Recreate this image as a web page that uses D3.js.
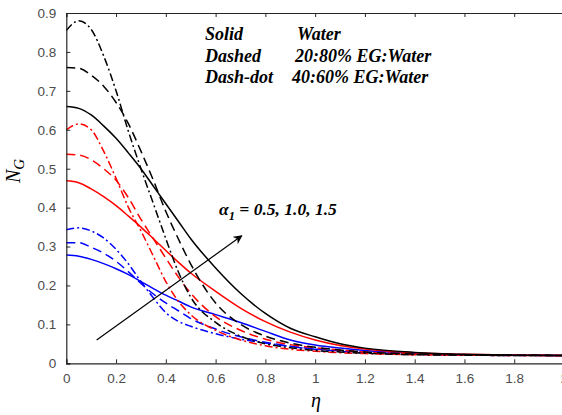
<!DOCTYPE html>
<meta charset='utf-8'>
<title>NG profiles</title>
<style>
body {
  margin: 0;
  background-color: #fff;
}
.tick text { fill: #4d4d4d; font-size: 13.5px; font-family: "Liberation Sans", Arial, sans-serif; }
</style>
<svg width="562" height="415"></svg>
<script src="https://d3js.org/d3.v7.min.js"></script>
<script>

var svg = d3.select("svg");
var serif = '"Liberation Serif", "Times New Roman", serif';

// eta grid shared by all curves
var eta = [0, 0.05, 0.1, 0.15, 0.2, 0.25, 0.3, 0.35, 0.4, 0.45, 0.5, 0.6, 0.7, 0.8, 0.9, 1.0, 1.1, 1.2, 1.4, 1.6, 1.8, 2.0];

// blue = alpha1 0.5, red = 1.0, black = 1.5
var blueSolid   = [0.278, 0.275, 0.267, 0.256, 0.243, 0.228, 0.21, 0.192, 0.175, 0.16, 0.145, 0.125, 0.105, 0.082, 0.06, 0.047, 0.039, 0.033, 0.026, 0.022, 0.021, 0.02];
var blueDash    = [0.31, 0.31, 0.298, 0.283, 0.262, 0.235, 0.205, 0.178, 0.155, 0.135, 0.115, 0.088, 0.068, 0.054, 0.044, 0.037, 0.032, 0.028, 0.024, 0.022, 0.021, 0.02];
var blueDashDot = [0.343, 0.348, 0.34, 0.322, 0.293, 0.255, 0.21, 0.168, 0.13, 0.108, 0.095, 0.076, 0.062, 0.052, 0.043, 0.036, 0.031, 0.027, 0.023, 0.021, 0.02, 0.02];
var redSolid    = [0.469, 0.464, 0.448, 0.428, 0.405, 0.378, 0.35, 0.32, 0.29, 0.26, 0.232, 0.185, 0.142, 0.107, 0.08, 0.06, 0.046, 0.037, 0.027, 0.023, 0.021, 0.02];
var redDash     = [0.537, 0.535, 0.523, 0.5, 0.47, 0.425, 0.37, 0.32, 0.27, 0.222, 0.18, 0.12, 0.085, 0.062, 0.048, 0.04, 0.034, 0.029, 0.024, 0.022, 0.021, 0.02];
var redDashDot  = [0.60, 0.615, 0.60, 0.545, 0.475, 0.40, 0.34, 0.275, 0.21, 0.16, 0.125, 0.085, 0.06, 0.045, 0.036, 0.031, 0.027, 0.025, 0.022, 0.021, 0.02, 0.02];
var blackSolid  = [0.66, 0.655, 0.638, 0.61, 0.578, 0.54, 0.50, 0.455, 0.41, 0.365, 0.32, 0.245, 0.18, 0.128, 0.09, 0.068, 0.05, 0.039, 0.028, 0.023, 0.021, 0.02];
var blackDash   = [0.76, 0.758, 0.74, 0.712, 0.67, 0.615, 0.545, 0.47, 0.39, 0.32, 0.255, 0.155, 0.10, 0.07, 0.052, 0.041, 0.034, 0.029, 0.024, 0.022, 0.021, 0.02];
var blackDashDot= [0.855, 0.88, 0.858, 0.79, 0.70, 0.595, 0.50, 0.41, 0.32, 0.235, 0.17, 0.105, 0.07, 0.05, 0.04, 0.033, 0.029, 0.026, 0.022, 0.021, 0.02, 0.02];

var xTicks = [0, 0.2, 0.4, 0.6, 0.8, 1, 1.2, 1.4, 1.6, 1.8, 2];
var yTicks = [0, 0.1, 0.2, 0.3, 0.4, 0.5, 0.6, 0.7, 0.8, 0.9];

var legendRows = [["Solid", "Water"], ["Dashed", "20:80% EG:Water"], ["Dash-dot", "40:60% EG:Water"]];

var series = [
  { values: blueSolid,    color: "#0000ff", dash: null },
  { values: blueDash,     color: "#0000ff", dash: "9,5" },
  { values: blueDashDot,  color: "#0000ff", dash: "8,3,2,3" },
  { values: redSolid,     color: "#ff0000", dash: null },
  { values: redDash,      color: "#ff0000", dash: "9,5" },
  { values: redDashDot,   color: "#ff0000", dash: "8,3,2,3" },
  { values: blackSolid,   color: "#000000", dash: null },
  { values: blackDash,    color: "#000000", dash: "9,5" },
  { values: blackDashDot, color: "#000000", dash: "8,3,2,3" }
];

var x = d3.scaleLinear().domain([0, 2]).range([66.3, 564]);
var y = d3.scaleLinear().domain([0, 0.9]).range([363.3, 13]);

var line = d3.line()
    .x(function(d, i) { return x(eta[i]); })
    .y(function(d) { return y(d); })
    .curve(d3.curveMonotoneX);

// curves
svg.append("g").selectAll("path")
    .data(series)
  .enter().append("path")
    .attr("fill", "none")
    .attr("stroke", function(d) { return d.color; })
    .attr("stroke-width", 1.5)
    .attr("stroke-dasharray", function(d) { return d.dash; })
    .attr("d", function(d) { return line(d.values); });

// axes
var fmt = function(d) { return d === 0 ? "0" : (d === 1 ? "1" : (d === 2 ? "2" : d3.format(".1f")(d))); };

svg.append("g")
    .attr("transform", "translate(0," + y(0) + ")")
    .call(d3.axisBottom(x).tickValues(xTicks).tickSize(-4).tickPadding(10).tickFormat(fmt));

svg.append("g")
    .attr("transform", "translate(0," + y(0.9) + ")")
    .call(d3.axisTop(x).tickValues(xTicks).tickSize(-4).tickFormat(""));

svg.append("g")
    .attr("transform", "translate(" + x(0) + ",0)")
    .call(d3.axisLeft(y).tickValues(yTicks).tickSize(-4).tickPadding(10).tickFormat(fmt));

svg.selectAll(".domain").attr("stroke", "#262626").attr("stroke-width", 1.2);
svg.selectAll(".tick line").attr("stroke", "#262626");

// axis titles
svg.append("text")
    .attr("x", 316).attr("y", 407)
    .attr("text-anchor", "middle")
    .style("font-family", serif)
    .style("font-style", "italic")
    .style("font-size", "20px")
    .text("η");

var yl = svg.append("text")
    .attr("transform", "translate(20,171) rotate(-90)")
    .attr("text-anchor", "middle")
    .style("font-family", serif)
    .style("font-style", "italic")
    .style("font-size", "20px");
yl.append("tspan").text("N");
yl.append("tspan").attr("dy", 4).style("font-size", "15px").text("G");

// legend text
legendRows.forEach(function(r, i) {
  [[205, r[0]], [i === 2 ? 292 : (i === 1 ? 295 : 297), r[1]]].forEach(function(c) {
    svg.append("text")
        .attr("x", c[0]).attr("y", 40 + i * 21.7)
        .style("font-family", serif)
        .style("font-weight", "bold").style("font-style", "italic").style("font-size", "18px")
        .text(c[1]);
  });
});

// arrow annotation
svg.append("defs").append("marker")
    .attr("id", "head")
    .attr("viewBox", "0 0 10 10")
    .attr("refX", 9).attr("refY", 5)
    .attr("markerWidth", 9).attr("markerHeight", 9)
    .attr("markerUnits", "userSpaceOnUse")
    .attr("orient", "auto")
  .append("path")
    .attr("d", "M0,0 L10,5 L0,10 L3,5 Z")
    .attr("fill", "#000");

svg.append("line")
    .attr("x1", x(0.122)).attr("y1", y(0.06))
    .attr("x2", x(0.705)).attr("y2", y(0.3275))
    .attr("stroke", "#000")
    .attr("stroke-width", 1.2)
    .attr("marker-end", "url(#head)");

var al = svg.append("text")
    .attr("x", 219).attr("y", 215)
    .style("font-family", serif)
    .style("font-weight", "bold").style("font-style", "italic").style("font-size", "17.5px");
al.append("tspan").text("α");
al.append("tspan").attr("dy", 5).style("font-size", "12.5px").text("1");
al.append("tspan").attr("dy", -5).text(" = 0.5, 1.0, 1.5");

</script>
